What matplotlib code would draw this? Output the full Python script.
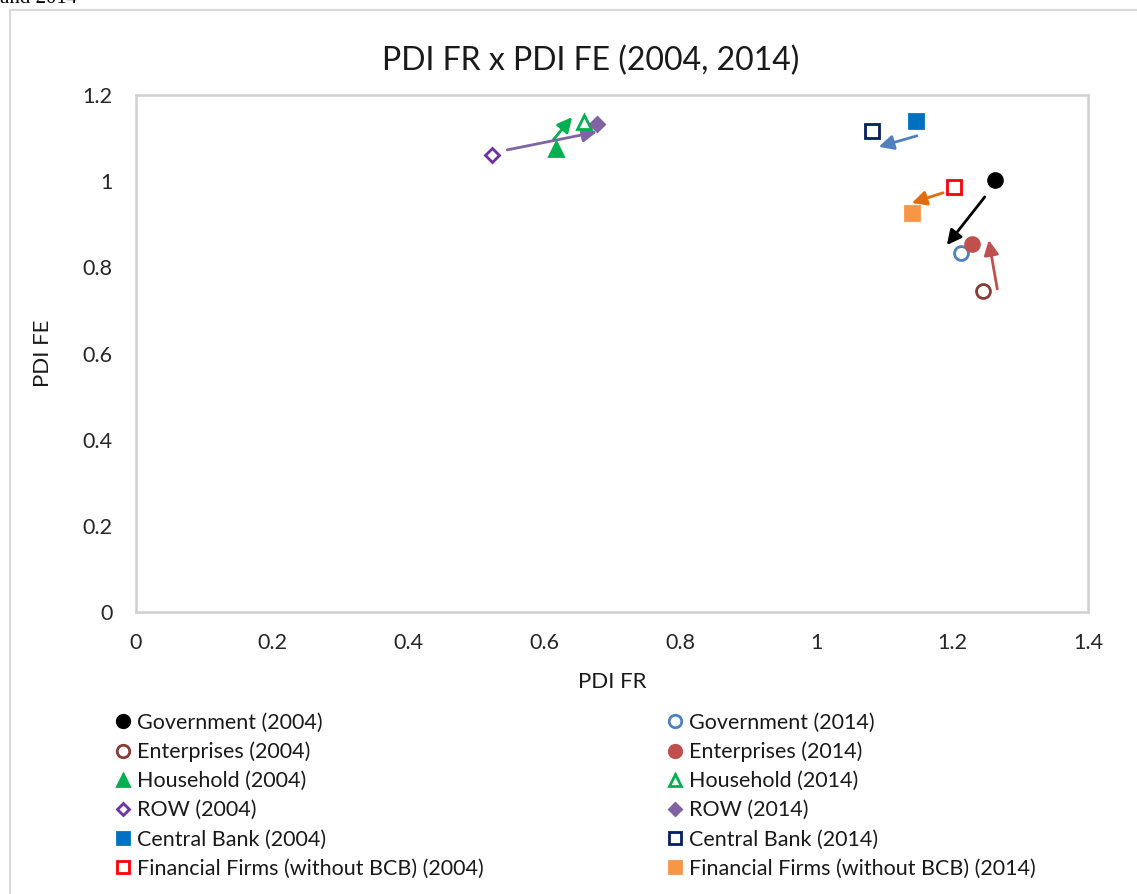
import matplotlib.pyplot as plt
from matplotlib.lines import Line2D
from matplotlib.patches import Rectangle
from matplotlib.transforms import offset_copy

plt.rcParams['font.family'] = ['Lato', 'DejaVu Sans']

sectors = ['Government', 'Enterprises', 'Household', 'ROW', 'Central Bank',
           'Financial Firms (without BCB)']
fr_2004 = [1.263, 1.246, 0.618, 0.524, 1.147, 1.203]
fe_2004 = [1.003, 0.745, 1.075, 1.061, 1.140, 0.987]
fr_2014 = [1.213, 1.229, 0.659, 0.678, 1.082, 1.141]
fe_2014 = [0.833, 0.854, 1.137, 1.133, 1.117, 0.926]

# marker, face, edge for each sector / year
style_2004 = [('o', 'black', 'black'), ('o', 'white', '#843c39'),
              ('^', '#00b050', '#00b050'), ('D', 'white', '#7030a0'),
              ('s', '#0070c0', '#0070c0'), ('s', 'white', '#ff0000')]
style_2014 = [('o', 'white', '#4f81bd'), ('o', '#c0504d', '#c0504d'),
              ('^', 'white', '#00b050'), ('D', '#8064a2', '#8064a2'),
              ('s', 'white', '#002060'), ('s', '#f79646', '#f79646')]
arrow_colors = ['black', '#c0504d', '#00b050', '#8064a2', '#4f81bd', '#e36c09']
# pixel nudges for arrow tail / head
arrow_tail = [(-10, -17), (14, 2), (-3, 9), (15, 5), (1, -15), (-11, -6)]
arrow_head = [(-14, 8), (17, 4), (-12, 5), (0, -8), (7, -16), (0, 10)]

fig = plt.figure(figsize=(11.37, 8.94), dpi=100)
fig.patches.append(Rectangle((10 / 1137, -0.1), 1.2, 1.1 - 10 / 894,
                             transform=fig.transFigure, fill=False,
                             edgecolor='#d9d9d9', lw=1.5))
fig.text(0.0, 1.0 + 0.012, 'and 2014', fontsize=15, family=['Liberation Serif'],
         ha='left', va='top')

ax = fig.add_axes([136 / 1137, 1 - 612 / 894, 952 / 1137, 517 / 894])
ax.set_xlim(0, 1.4)
ax.set_ylim(0, 1.2)
ax.set_xticks([0, 0.2, 0.4, 0.6, 0.8, 1.0, 1.2, 1.4])
ax.set_xticklabels(['0', '0.2', '0.4', '0.6', '0.8', '1', '1.2', '1.4'])
ax.set_yticks([0, 0.2, 0.4, 0.6, 0.8, 1.0, 1.2])
ax.set_yticklabels(['0', '0.2', '0.4', '0.6', '0.8', '1', '1.2'])
ax.tick_params(length=0, labelsize=15.5, colors='#262626', pad=15)
ax.tick_params(axis='y', pad=17)
for s in ax.spines.values():
    s.set_color('#d0d0d0')
    s.set_linewidth(1.8)

ax.set_title('PDI FR x PDI FE (2004, 2014)', fontsize=23, pad=18, color='#1a1a1a',
             x=0.478)
ax.set_xlabel('PDI FR', fontsize=16, labelpad=14, color='#1a1a1a')
ax.set_ylabel('PDI FE', fontsize=16, labelpad=21, color='#1a1a1a')

for i in range(len(sectors)):
    a0, a1 = arrow_tail[i], arrow_head[i]
    tail_tr = offset_copy(ax.transData, fig=fig, x=a0[0], y=a0[1], units='dots')
    head_tr = offset_copy(ax.transData, fig=fig, x=a1[0], y=a1[1], units='dots')
    ax.annotate('', xy=(fr_2014[i], fe_2014[i]), xycoords=head_tr,
                xytext=(fr_2004[i], fe_2004[i]), textcoords=tail_tr,
                arrowprops=dict(arrowstyle='-|>', color=arrow_colors[i], lw=2,
                                mutation_scale=22, shrinkA=0, shrinkB=0))

h04, h14 = [], []
for i, name in enumerate(sectors):
    m, fc, ec = style_2004[i]
    ms = 7 if m == 'D' else 10
    ax.plot(fr_2004[i], fe_2004[i], m, ms=ms, mfc=fc, mec=ec, mew=2, zorder=3)
    h04.append(Line2D([], [], ls='', marker=m, ms=ms - 1, mfc=fc, mec=ec, mew=2,
                      label=f'{name} (2004)'))
    m, fc, ec = style_2014[i]
    ms = 7 if m == 'D' else 10
    ax.plot(fr_2014[i], fe_2014[i], m, ms=ms, mfc=fc, mec=ec, mew=2, zorder=3)
    h14.append(Line2D([], [], ls='', marker=m, ms=ms - 1, mfc=fc, mec=ec, mew=2,
                      label=f'{name} (2014)'))

for handles, x0 in [(h04, 108 / 1137), (h14, 660 / 1137)]:
    fig.legend(handles=handles, loc='upper left', bbox_to_anchor=(x0, 1 - 704 / 894),
               frameon=False, fontsize=15.5, handlelength=0.6, handletextpad=0.35,
               labelspacing=0.42, borderaxespad=0, labelcolor='#1a1a1a')

fig.savefig('out.png', dpi=100)
